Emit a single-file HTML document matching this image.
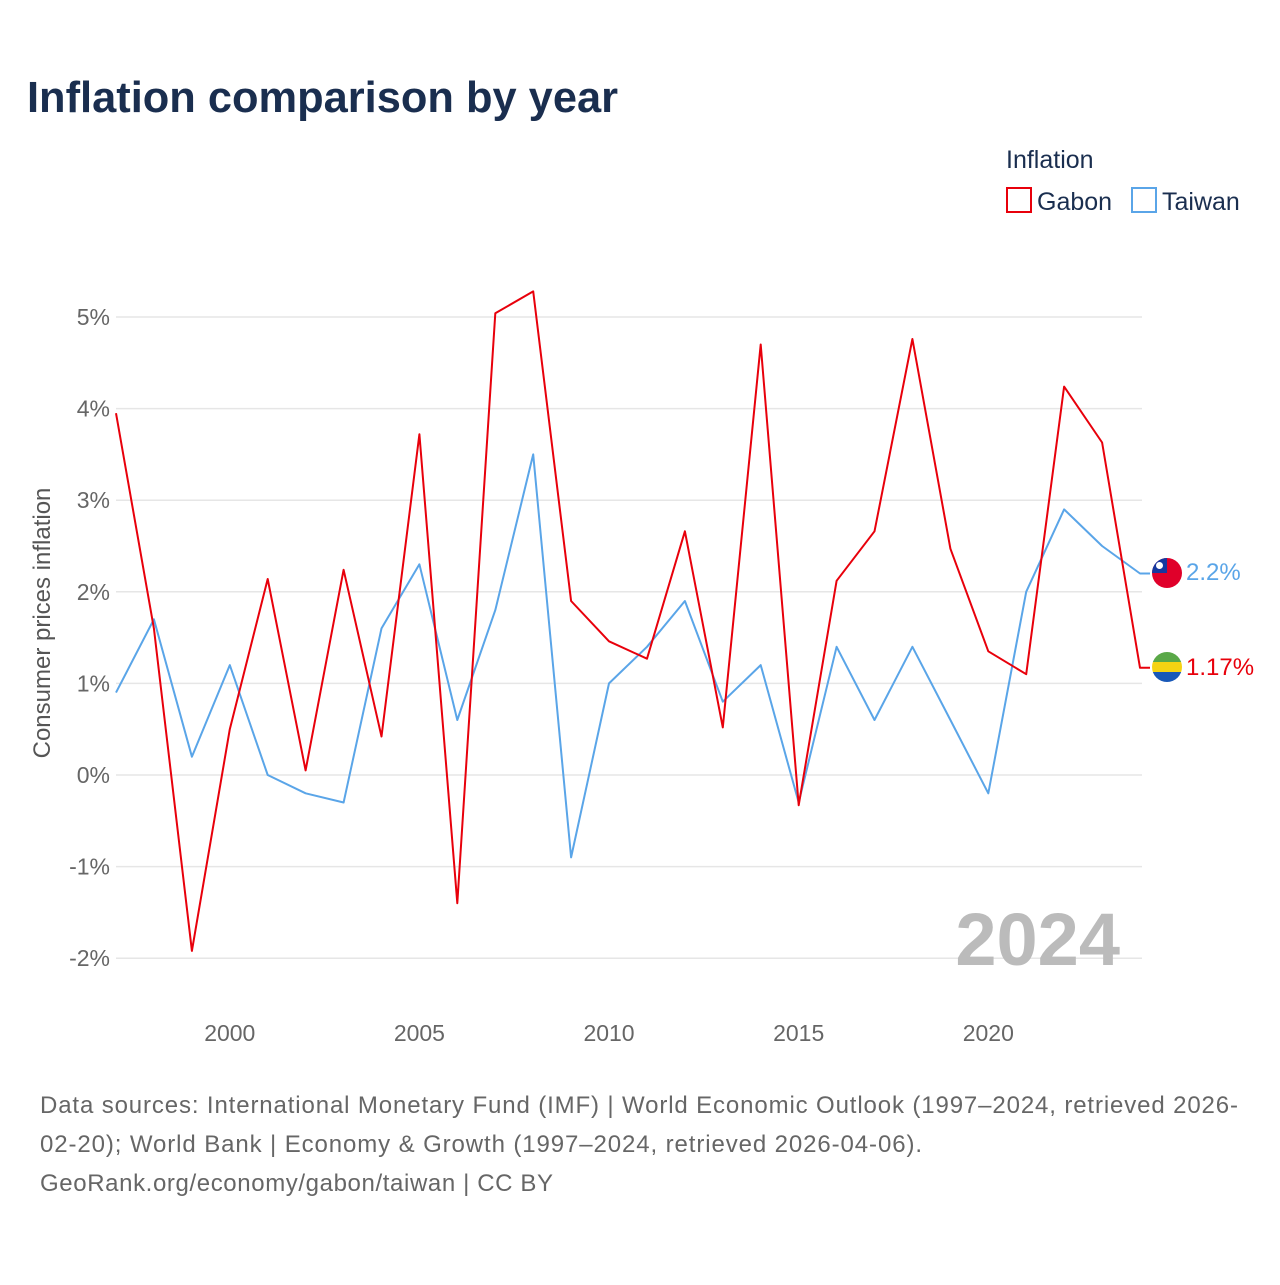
<!DOCTYPE html>
<html><head><meta charset="utf-8"><style>
body{margin:0;background:#fff;font-family:"Liberation Sans",sans-serif;}
svg text{font-family:"Liberation Sans",sans-serif;}
</style></head><body>
<svg width="1280" height="1280" viewBox="0 0 1280 1280" xmlns="http://www.w3.org/2000/svg">
<rect width="1280" height="1280" fill="#fff"/>
<text x="27" y="112" font-size="44" font-weight="bold" fill="#1a2e4f" textLength="591" lengthAdjust="spacingAndGlyphs">Inflation comparison by year</text>
<g>
<text x="1006" y="168" font-size="25" fill="#1a2e4f">Inflation</text>
<g><rect x="1007" y="188" width="24" height="24" fill="none" stroke="#e8000b" stroke-width="2"/><text x="1037" y="210" font-size="25" fill="#1a2e4f">Gabon</text></g>
<g><rect x="1132" y="188" width="24" height="24" fill="none" stroke="#5aa5e8" stroke-width="2"/><text x="1162" y="210" font-size="25" fill="#1a2e4f">Taiwan</text></g>
</g>
<g id="grid"></g>
<g id="yticks"></g>
<g id="xticks"></g>
<text transform="translate(50,623) rotate(-90)" text-anchor="middle" font-size="24" fill="#555">Consumer prices inflation</text>
<text x="1120" y="965" text-anchor="end" font-size="74" font-weight="bold" fill="#bbb">2024</text>
<g id="series"></g>
<g>
<clipPath id="ct"><circle cx="1167" cy="573" r="15"/></clipPath>
<g clip-path="url(#ct)"><rect x="1152" y="558" width="30" height="30" fill="#e0002a"/><rect x="1152" y="558" width="15" height="15" fill="#1538a0"/><circle cx="1159.5" cy="565.5" r="3.5" fill="#fff"/></g></g>
<g>
<clipPath id="cg"><circle cx="1167" cy="667" r="15"/></clipPath>
<g clip-path="url(#cg)"><rect x="1152" y="652" width="30" height="10" fill="#5aa848"/><rect x="1152" y="662" width="30" height="10" fill="#f5d312"/><rect x="1152" y="672" width="30" height="10" fill="#1858b8"/></g></g>
<text x="1186" y="580" font-size="24" fill="#5aa5e8">2.2%</text>
<text x="1186" y="675" font-size="24" fill="#e8000b">1.17%</text>
<g font-size="24" fill="#666">
<text x="40" y="1113" textLength="1198">Data sources: International Monetary Fund (IMF) | World Economic Outlook (1997–2024, retrieved 2026-</text>
<text x="40" y="1152" textLength="882">02-20); World Bank | Economy &amp; Growth (1997–2024, retrieved 2026-04-06).</text>
<text x="40" y="1191" textLength="513">GeoRank.org/economy/gabon/taiwan | CC BY</text>
</g>
</svg>
<script>
const years=[1997,1998,1999,2000,2001,2002,2003,2004,2005,2006,2007,2008,2009,2010,2011,2012,2013,2014,2015,2016,2017,2018,2019,2020,2021,2022,2023,2024];
const gabon=[3.95,1.6,-1.92,0.5,2.14,0.05,2.24,0.42,3.72,-1.4,5.04,5.28,1.9,1.46,1.27,2.66,0.52,4.7,-0.33,2.12,2.66,4.76,2.47,1.35,1.1,4.24,3.63,1.17];
const taiwan=[0.9,1.7,0.2,1.2,0.0,-0.2,-0.3,1.6,2.3,0.6,1.8,3.5,-0.9,1.0,1.4,1.9,0.8,1.2,-0.3,1.4,0.6,1.4,0.6,-0.2,2.0,2.9,2.5,2.2];
const yTicks=[-2,-1,0,1,2,3,4,5];
const xTicks=[2000,2005,2010,2015,2020];
const NS="http://www.w3.org/2000/svg";
const x=v=>116+(v-1997)*(1140-116)/27;
const y=v=>775-v*91.6;
function mk(tag,attrs,parent){const e=document.createElementNS(NS,tag);for(const k in attrs)e.setAttribute(k,attrs[k]);parent.appendChild(e);return e;}
const grid=document.getElementById('grid'),yt=document.getElementById('yticks'),xt=document.getElementById('xticks'),ser=document.getElementById('series');
yTicks.forEach(t=>{
const l=mk('line',{x1:116,x2:1142,y1:y(t),y2:y(t),stroke:'#e6e6e6','stroke-width':1.5},grid);


const tx=mk('text',{x:110,y:y(t)+8,'text-anchor':'end','font-size':23,fill:'#666'},yt);
tx.textContent=t+'%';


});
xTicks.forEach(t=>{
const tx=mk('text',{x:x(t),y:1041,'text-anchor':'middle','font-size':23,fill:'#666'},xt);
tx.textContent=t;


});
function line(vals,color,name){
const pts=vals.map((v,i)=>x(years[i]).toFixed(1)+','+y(v).toFixed(1));
const last=vals[vals.length-1];
pts.push((x(years[years.length-1])+10).toFixed(1)+','+y(last).toFixed(1));
const p=mk('polyline',{points:pts.join(' '),fill:'none',stroke:color,'stroke-width':2,'stroke-linejoin':'round'},ser);


}
line(taiwan,'#5aa5e8','line-taiwan');
line(gabon,'#e8000b','line-gabon');
</script>
</body></html>
